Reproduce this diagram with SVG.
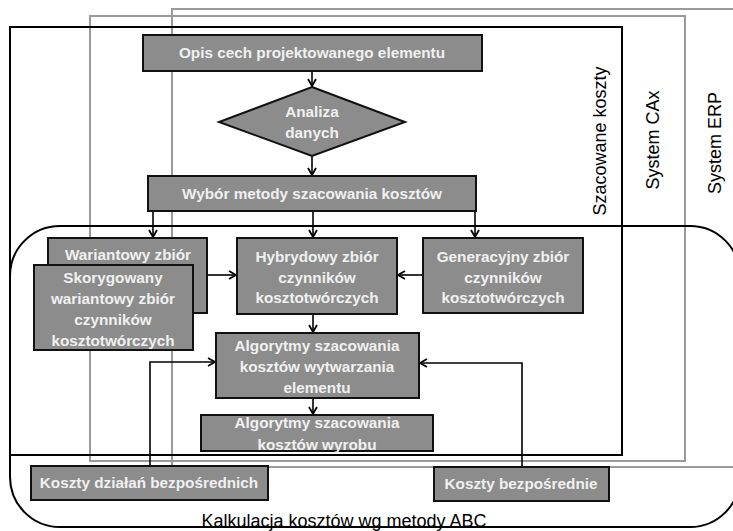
<svg xmlns="http://www.w3.org/2000/svg" width="733" height="531" viewBox="0 0 733 531">
<style>
.frameG{fill:none;stroke:#9a9a9a;stroke-width:2}
.frameB{fill:none;stroke:#000;stroke-width:2}
.box{fill:#8c8c8c;stroke:#111;stroke-width:2}
.t{font-family:"Liberation Sans",Arial,sans-serif;font-weight:bold;font-size:15.3px;fill:#f0f0f0;text-anchor:middle}
.lab{font-family:"Liberation Sans",Arial,sans-serif;font-size:18px;fill:#000;text-anchor:middle}
.c{fill:none;stroke:#000;stroke-width:1.6}
</style>
<defs>
<marker id="arr" markerWidth="10" markerHeight="10" refX="8" refY="5" orient="auto" markerUnits="userSpaceOnUse">
<path d="M1,1 L8,5 L1,9" fill="none" stroke="#000" stroke-width="1.8"/>
</marker>
</defs>
<rect width="733" height="531" fill="#fff"/>
<g id="frames">
<rect class="frameG" x="172" y="9" width="580" height="458"/>
<rect class="frameG" x="90" y="16" width="595" height="445"/>
<rect class="frameB" x="10" y="27" width="612" height="428"/>
<rect class="frameB" x="10" y="226" width="730" height="301" rx="50" ry="50"/>
<text class="lab" transform="translate(606,141) rotate(-90)">Szacowane koszty</text>
<text class="lab" transform="translate(659,140) rotate(-90)">System CAx</text>
<text class="lab" transform="translate(721,143) rotate(-90)">System ERP</text>
<text class="lab" x="344" y="527" font-size="20">Kalkulacja kosztów wg metody ABC</text>
</g>
<g id="connectors">
<line class="c" x1="312" y1="71" x2="312" y2="86" marker-end="url(#arr)"/>
<line class="c" x1="312" y1="156" x2="312" y2="175" marker-end="url(#arr)"/>
<line class="c" x1="153" y1="211" x2="153" y2="237" marker-end="url(#arr)"/>
<line class="c" x1="313" y1="211" x2="313" y2="237" marker-end="url(#arr)"/>
<line class="c" x1="475" y1="211" x2="475" y2="237" marker-end="url(#arr)"/>
<line class="c" x1="207" y1="275" x2="236" y2="275" marker-end="url(#arr)"/>
<line class="c" x1="423" y1="275" x2="398" y2="275" marker-end="url(#arr)"/>
<line class="c" x1="313" y1="314" x2="313" y2="332" marker-end="url(#arr)"/>
<line class="c" x1="313" y1="398" x2="313" y2="414" marker-end="url(#arr)"/>
<polyline class="c" points="150,466 150,362 215,362" marker-end="url(#arr)"/>
<polyline class="c" points="522,467 522,363 420,363" marker-end="url(#arr)"/>
</g>
<g id="n1"><rect class="box" x="143" y="35" width="339" height="36"/><text class="t" x="312" y="58">Opis cech projektowanego elementu</text></g>
<g id="n2"><polygon class="box" points="312,87 405,122 312,156 219,122"/><text class="t" x="312" y="117">Analiza</text><text class="t" x="312" y="138">danych</text></g>
<g id="n3"><rect class="box" x="148" y="176" width="328" height="35"/><text class="t" x="312" y="199">Wybór metody szacowania kosztów</text></g>
<g id="n4"><rect class="box" x="48" y="238" width="159" height="75"/><text class="t" x="128" y="260">Wariantowy zbiór</text></g>
<g id="n5"><rect class="box" x="34" y="265" width="159" height="85"/><text class="t" x="113" y="283">Skorygowany</text><text class="t" x="113" y="304">wariantowy zbiór</text><text class="t" x="113" y="325">czynników</text><text class="t" x="113" y="346">kosztotwórczych</text></g>
<g id="n6"><rect class="box" x="237" y="238" width="160" height="76"/><text class="t" x="317" y="262">Hybrydowy zbiór</text><text class="t" x="317" y="283">czynników</text><text class="t" x="317" y="303">kosztotwórczych</text></g>
<g id="n7"><rect class="box" x="423" y="238" width="160" height="75"/><text class="t" x="503" y="262">Generacyjny zbiór</text><text class="t" x="503" y="283">czynników</text><text class="t" x="503" y="303">kosztotwórczych</text></g>
<g id="n8"><rect class="box" x="216" y="333" width="203" height="65"/><text class="t" x="317" y="351">Algorytmy szacowania</text><text class="t" x="317" y="372">kosztów wytwarzania</text><text class="t" x="317" y="393">elementu</text></g>
<g id="n9"><rect class="box" x="201" y="415" width="232" height="36"/><text class="t" x="317" y="428">Algorytmy szacowania</text><text class="t" x="317" y="450">kosztów wyrobu</text></g>
<g id="n10"><rect class="box" x="31" y="466" width="237" height="34"/><text class="t" x="149" y="488">Koszty działań bezpośrednich</text></g>
<g id="n11"><rect class="box" x="434" y="467" width="175" height="34"/><text class="t" x="521" y="489">Koszty bezpośrednie</text></g>
</svg>
